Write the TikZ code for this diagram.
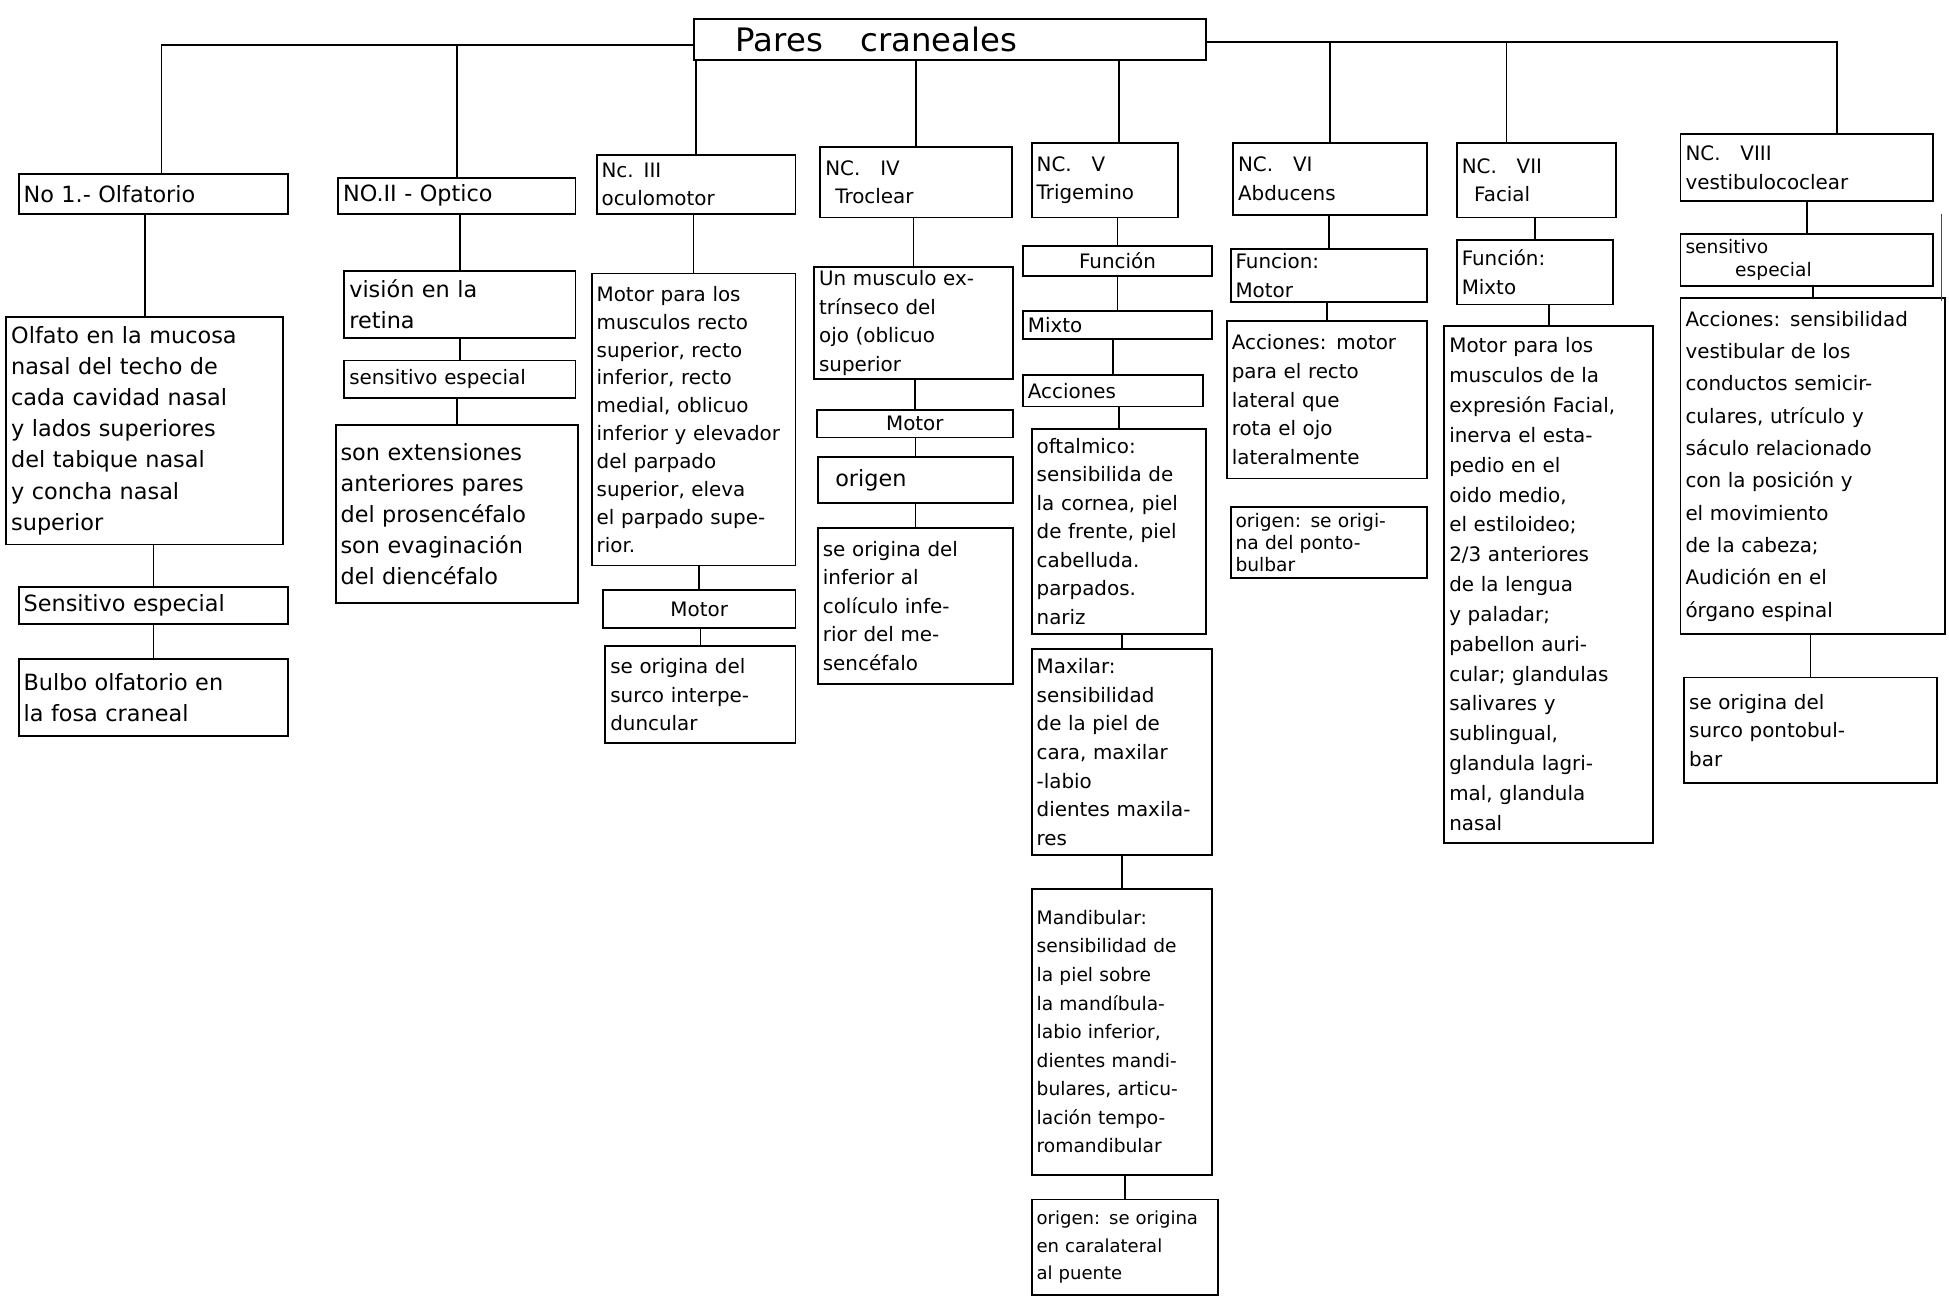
\documentclass[tikz,border=0pt]{standalone}
\usepackage{fontspec}
\setmainfont{DejaVu Sans}
\tikzset{
  box/.style={draw, line width=1.5pt, inner xsep=4pt, inner ysep=2pt, align=left,
    font=\fontsize{16}{23}\selectfont},
  link/.style={line width=1.4pt},
  big/.style={font=\fontsize{18}{25}\selectfont},
  tight/.style={font=\fontsize{16}{22.5}\selectfont},
  loose/.style={font=\fontsize{16}{26}\selectfont},
  small/.style={font=\fontsize{15}{23}\selectfont},
  compact/.style={font=\fontsize{15}{18}\selectfont, inner ysep=1pt}
}
\newcommand\bx[7][]{%
  \pgfmathsetmacro\bxw{#5-#3}%
  \pgfmathsetmacro\bxh{#6-#4}%
  \pgfmathsetmacro\bxt{#5-#3-8}%
  \node[box, minimum width=\bxw pt, minimum height=\bxh pt, text width=\bxt pt, #1] (#2) at ({(#3+#5)/2},{(#4+#6)/2}) {#7};}
\newcommand\vc[2]{\draw[link] (#1.south -| #2.north) -- (#2.north);}
\begin{document}
\begin{tikzpicture}[x=1pt,y=-1pt]
\useasboundingbox (0,0) rectangle (1568,1044);
% title
\bx[font=\fontsize{26}{30}\selectfont]{title}{558}{15}{970}{48}{\hspace*{30pt}Pares\hspace{30pt}craneales}
% column 1
\bx[big]{c1a}{15}{140}{232}{172}{No 1.- Olfatorio}
\bx[big]{c1b}{5}{255}{228}{438}{Olfato en la mucosa\\nasal del techo de\\cada cavidad nasal\\y lados superiores\\del tabique nasal\\y concha nasal\\superior}
\bx[big]{c1c}{15}{472}{232}{502}{Sensitivo especial}
\bx[big]{c1d}{15}{530}{232}{592}{Bulbo olfatorio en\\la fosa craneal}
% column 2
\bx[big]{c2a}{272}{143}{463}{172}{NO.II - Optico}
\bx[big]{c2b}{277}{218}{463}{272}{visión en la\\retina}
\bx{c2c}{277}{290}{463}{320}{sensitivo especial}
\bx[big]{c2d}{270}{342}{465}{485}{son extensiones\\anteriores pares\\del prosencéfalo\\son evaginación\\del diencéfalo}
% column 3
\bx{c3a}{480}{125}{640}{172}{Nc. III\\oculomotor}
\bx[tight]{c3b}{476}{220}{640}{455}{Motor para los\\musculos recto\\superior, recto\\inferior, recto\\medial, oblicuo\\inferior y elevador\\del parpado\\superior, eleva\\el parpado supe-\\rior.}
\bx[align=center]{c3c}{485}{475}{640}{505}{Motor}
\bx{c3d}{487}{520}{640}{598}{se origina del\\surco interpe-\\duncular}
% column 4
\bx{c4a}{660}{118}{814}{175}{NC.\quad IV\\\hspace*{8pt}Troclear}
\bx{c4b}{655}{215}{815}{305}{Un musculo ex-\\trínseco del\\ojo (oblicuo\\superior}
\bx[align=center]{c4c}{657}{330}{815}{352}{Motor}
\bx[font=\fontsize{18}{23}\selectfont]{c4d}{658}{368}{815}{405}{\hspace*{10pt}origen}
\bx{c4e}{658}{425}{815}{550}{se origina del\\inferior al\\colículo infe-\\rior del me-\\sencéfalo}
% column 5
\bx{c5a}{830}{115}{948}{175}{NC.\quad V\\Trigemino}
\bx[align=center]{c5b}{823}{198}{975}{222}{Función}
\bx{c5c}{823}{250}{975}{273}{Mixto}
\bx{c5d}{823}{302}{968}{327}{Acciones}
\bx{c5e}{830}{345}{970}{510}{oftalmico:\\sensibilida de\\la cornea, piel\\de frente, piel\\cabelluda.\\parpados.\\nariz}
\bx{c5f}{830}{522}{975}{688}{Maxilar:\\sensibilidad\\de la piel de\\cara, maxilar\\-labio\\dientes maxila-\\res}
\bx[small]{c5g}{830}{715}{975}{945}{Mandibular:\\sensibilidad de\\la piel sobre\\la mandíbula-\\labio inferior,\\dientes mandi-\\bulares, articu-\\lación tempo-\\romandibular}
\bx[font=\fontsize{14.5}{22}\selectfont]{c5h}{830}{965}{980}{1042}{origen: se origina\\en caralateral\\al puente}
% column 6
\bx{c6a}{992}{115}{1148}{173}{NC.\quad VI\\Abducens}
\bx{c6b}{990}{200}{1148}{243}{Funcion:\\Motor}
\bx{c6c}{987}{258}{1148}{385}{Acciones: motor\\para el recto\\lateral que\\rota el ojo\\lateralmente}
\bx[compact]{c6d}{990}{408}{1148}{465}{origen: se origi-\\na del ponto-\\bulbar}
% column 7
\bx{c7a}{1172}{115}{1300}{175}{NC.\quad VII\\\hspace*{10pt}Facial}
\bx{c7b}{1172}{193}{1298}{245}{Función:\\Mixto}
\bx[font=\fontsize{16}{24}\selectfont]{c7c}{1162}{262}{1330}{678}{Motor para los\\musculos de la\\expresión Facial,\\inerva el esta-\\pedio en el\\oido medio,\\el estiloideo;\\2/3 anteriores\\de la lengua\\y paladar;\\pabellon auri-\\cular; glandulas\\salivares y\\sublingual,\\glandula lagri-\\mal, glandula\\nasal}
% column 8
\bx{c8a}{1352}{108}{1555}{162}{NC.\quad VIII\\vestibulococlear}
\bx[compact]{c8b}{1352}{188}{1555}{230}{sensitivo\\\hspace*{40pt}especial}
\bx[loose]{c8c}{1352}{240}{1565}{510}{Acciones: sensibilidad\\vestibular de los\\conductos semicir-\\culares, utrículo y\\sáculo relacionado\\con la posición y\\el movimiento\\de la cabeza;\\Audición en el\\órgano espinal}
\bx{c8d}{1355}{545}{1558}{630}{se origina del\\surco pontobul-\\bar}
% top connectors
\coordinate (jl) at (130,36);
\coordinate (jr) at (1478,34);
\coordinate (j5) at (900,48);
\coordinate (j7) at (1212,34);
\draw[link] (title.west |- jl) -- (jl) -- (c1a.north -| jl);
\draw[link] (c2a.north) -- (c2a.north |- jl);
\draw[link] (title.east |- jr) -- (jr) -- (c8a.north -| jr);
\draw[link] (title.south -| c3a.north) -- (c3a.north);
\draw[link] (title.south -| c4a.north) -- (c4a.north);
\draw[link] (j5) -- (c5a.north -| j5);
\draw[link] (c6a.north) -- (c6a.north |- jr);
\draw[link] (j7) -- (c7a.north -| j7);
% column connectors
\vc{c1a}{c1b}\vc{c1b}{c1c}\vc{c1c}{c1d}
\vc{c2a}{c2b}\vc{c2b}{c2c}\vc{c2c}{c2d}
\vc{c3a}{c3b}\vc{c3b}{c3c}\vc{c3c}{c3d}
\vc{c4a}{c4b}\vc{c4b}{c4c}\vc{c4c}{c4d}\vc{c4d}{c4e}
\vc{c5a}{c5b}\vc{c5b}{c5c}\vc{c5c}{c5d}\vc{c5d}{c5e}\vc{c5e}{c5f}\vc{c5f}{c5g}\vc{c5g}{c5h}
\vc{c6a}{c6b}\vc{c6b}{c6c}
\vc{c7a}{c7b}\vc{c7b}{c7c}
\vc{c8a}{c8b}\vc{c8b}{c8c}\vc{c8c}{c8d}
% stray edge line
\draw[line width=1pt, black!70] (1562,172) -- (1562,242);
\end{tikzpicture}
\end{document}
